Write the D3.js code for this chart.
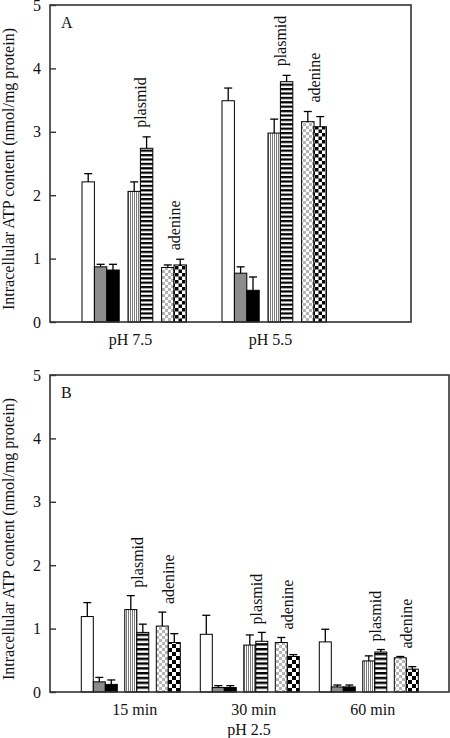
<!DOCTYPE html>
<html>
<head>
<meta charset="utf-8">
<script src="https://cdn.jsdelivr.net/npm/d3@7"></script>
<style>
  html, body { margin: 0; padding: 0; background: #fff; }
  svg { display: block; }
  text { font-family: "Liberation Serif", "Times New Roman", serif; fill: #111; }
</style>
</head>
<body>
<div id="chart"></div>
<script>
// ---------------- DATA ----------------
const seriesKeys = ["white", "gray", "black", "vstripe", "hstripe", "checkLight", "checkDark"];
const seriesCluster = [0, 0, 0, 1, 1, 2, 2];
const yTicks = [0, 1, 2, 3, 4, 5];
const yTitle = "Intracellular ATP content (nmol/mg protein)";
const clusterLabels = ["plasmid", "adenine"];

// Panel A
const catsA = ["pH 7.5", "pH 5.5"];
const valuesA = {
  white:      [2.21, 3.49],
  gray:       [0.87, 0.77],
  black:      [0.82, 0.50],
  vstripe:    [2.06, 2.98],
  hstripe:    [2.74, 3.79],
  checkLight: [0.86, 3.16],
  checkDark:  [0.90, 3.08]
};
const errorsA = {
  white:      [0.13, 0.20],
  gray:       [0.04, 0.10],
  black:      [0.09, 0.21],
  vstripe:    [0.15, 0.22],
  hstripe:    [0.18, 0.10],
  checkLight: [0.04, 0.16],
  checkDark:  [0.09, 0.16]
};

// Panel B
const catsB = ["15 min", "30 min", "60 min"];
const xTitleB = "pH 2.5";
const valuesB = {
  white:      [1.19, 0.91, 0.79],
  gray:       [0.16, 0.07, 0.08],
  black:      [0.12, 0.07, 0.08],
  vstripe:    [1.30, 0.74, 0.49],
  hstripe:    [0.94, 0.80, 0.63],
  checkLight: [1.04, 0.78, 0.54],
  checkDark:  [0.78, 0.56, 0.36]
};
const errorsB = {
  white:      [0.22, 0.30, 0.20],
  gray:       [0.07, 0.03, 0.03],
  black:      [0.07, 0.03, 0.03],
  vstripe:    [0.22, 0.16, 0.08],
  hstripe:    [0.13, 0.14, 0.04],
  checkLight: [0.22, 0.08, 0.02],
  checkDark:  [0.14, 0.03, 0.04]
};

// ---------------- DRAW ----------------
const W = 450, H = 738;
const svg = d3.select("#chart").append("svg").attr("width", W).attr("height", H);
const defs = svg.append("defs");

function makePatterns(id, stripe, check) {
  // vertical fine stripes
  let p = defs.append("pattern").attr("id", "vs" + id).attr("patternUnits", "userSpaceOnUse")
    .attr("width", 2).attr("height", 4);
  p.append("rect").attr("width", 2).attr("height", 4).attr("fill", "#fff");
  p.append("rect").attr("width", 1).attr("height", 4).attr("fill", "#7a7a7a");
  // horizontal stripes
  p = defs.append("pattern").attr("id", "hs" + id).attr("patternUnits", "userSpaceOnUse")
    .attr("width", 4).attr("height", stripe);
  p.append("rect").attr("width", 4).attr("height", stripe).attr("fill", "#fff");
  p.append("rect").attr("width", 4).attr("height", stripe / 2).attr("fill", "#000");
  // light checker
  const c1 = 3;
  p = defs.append("pattern").attr("id", "cl" + id).attr("patternUnits", "userSpaceOnUse")
    .attr("width", c1 * 2).attr("height", c1 * 2);
  p.append("rect").attr("width", c1 * 2).attr("height", c1 * 2).attr("fill", "#fff");
  p.append("rect").attr("width", c1).attr("height", c1).attr("fill", "#b5b5b5");
  p.append("rect").attr("x", c1).attr("y", c1).attr("width", c1).attr("height", c1).attr("fill", "#b5b5b5");
  // dark checker
  p = defs.append("pattern").attr("id", "cd" + id).attr("patternUnits", "userSpaceOnUse")
    .attr("width", check * 2).attr("height", check * 2);
  p.append("rect").attr("width", check * 2).attr("height", check * 2).attr("fill", "#fff");
  p.append("rect").attr("width", check).attr("height", check).attr("fill", "#000");
  p.append("rect").attr("x", check).attr("y", check).attr("width", check).attr("height", check).attr("fill", "#000");
}

function fillFor(key, id) {
  switch (key) {
    case "white": return "#fff";
    case "gray": return "#8c8c8c";
    case "black": return "#000";
    case "vstripe": return "url(#vs" + id + ")";
    case "hstripe": return "url(#hs" + id + ")";
    case "checkLight": return "url(#cl" + id + ")";
    case "checkDark": return "url(#cd" + id + ")";
  }
}

function drawPanel(cfg) {
  const g = svg.append("g");
  const { left, right, top, bottom, cats, values, errors, id } = cfg;
  makePatterns(id, cfg.stripe, cfg.check);

  const y = d3.scaleLinear().domain([0, 5]).range([bottom, top]);
  const x0 = d3.scaleBand().domain(cats).range(cfg.groupRange).paddingInner(0).paddingOuter(0);
  const bw = cfg.barW, gap = cfg.gap;
  const off = i => i * bw + seriesCluster[i] * gap;

  // bars
  seriesKeys.forEach((k, si) => {
    const data = cats.map((c, ci) => ({ c, v: values[k][ci], e: errors[k][ci] }));
    const sg = g.append("g");
    sg.selectAll("rect").data(data).join("rect")
      .attr("x", d => x0(d.c) + off(si))
      .attr("y", d => y(d.v))
      .attr("width", bw)
      .attr("height", d => y(0) - y(d.v))
      .attr("fill", fillFor(k, id))
      .attr("stroke", "#000").attr("stroke-width", 1);
    // error bars (upper only)
    sg.selectAll("line.eb").data(data).join("line").attr("class", "eb")
      .attr("x1", d => x0(d.c) + off(si) + bw / 2).attr("x2", d => x0(d.c) + off(si) + bw / 2)
      .attr("y1", d => y(d.v)).attr("y2", d => y(d.v + d.e))
      .attr("stroke", "#000").attr("stroke-width", 1.3);
    sg.selectAll("line.cap").data(data).join("line").attr("class", "cap")
      .attr("x1", d => x0(d.c) + off(si) + bw / 2 - 4).attr("x2", d => x0(d.c) + off(si) + bw / 2 + 4)
      .attr("y1", d => y(d.v + d.e)).attr("y2", d => y(d.v + d.e))
      .attr("stroke", "#000").attr("stroke-width", 1.3);
  });

  // cluster labels (plasmid over series 3-4, adenine over series 5-6)
  const pairs = [[3, 4], [5, 6]];
  cats.forEach((c, ci) => {
    pairs.forEach((pr, pi) => {
      const topCap = Math.min(...pr.map(si => y(values[seriesKeys[si]][ci] + errors[seriesKeys[si]][ci])));
      const bx = x0(c) + off(pr[1]) + cfg.labelDx;
      const by = topCap - cfg.labelGap;
      g.append("text").attr("transform", `translate(${bx},${by}) rotate(-90)`)
        .attr("font-size", 16).attr("text-anchor", "start").text(clusterLabels[pi]);
    });
  });

  // box
  g.append("rect").attr("x", left).attr("y", top).attr("width", right - left).attr("height", bottom - top)
    .attr("fill", "none").attr("stroke", "#333").attr("stroke-width", 1.6);

  // y axis
  const ax = g.append("g").attr("transform", `translate(${left},0)`)
    .call(d3.axisLeft(y).tickValues(yTicks).tickFormat(d3.format("d")).tickSize(-6).tickPadding(9));
  ax.select(".domain").remove();
  ax.selectAll(".tick line").attr("stroke", "#333").attr("stroke-width", 1.4);
  ax.selectAll(".tick text").attr("font-size", 16).attr("fill", "#111")
    .style("font-family", '"Liberation Serif", "Times New Roman", serif');

  // y title
  g.append("text").attr("transform", `translate(14,${(top + bottom) / 2 + 5.5}) rotate(-90)`)
    .attr("text-anchor", "middle").attr("font-size", 16).text(yTitle);

  // category labels
  g.selectAll("text.cat").data(cats).join("text").attr("class", "cat")
    .attr("x", d => x0(d) + cfg.catDx).attr("y", bottom + 23)
    .attr("text-anchor", "middle").attr("font-size", 16).text(d => d);

  // panel letter
  g.append("text").attr("x", left + 11).attr("y", top + 23).attr("font-size", 16).text(cfg.letter);
  return { x0, y };
}

drawPanel({
  id: "A", letter: "A", left: 50, right: 411, top: 5, bottom: 322,
  cats: catsA, values: valuesA, errors: errorsA,
  groupRange: [82, 362], barW: 12.4, gap: 8.8, stripe: 4.4, check: 3.5,
  labelDx: 6, labelGap: 9, catDx: 48.5
});

drawPanel({
  id: "B", letter: "B", left: 50, right: 449, top: 375, bottom: 692,
  cats: catsB, values: valuesB, errors: errorsB,
  groupRange: [81.3, 438.3], barW: 12, gap: 7.5, stripe: 4.8, check: 4,
  labelDx: 6, labelGap: 8, catDx: 53.5
});

svg.append("text").attr("x", 249).attr("y", 735).attr("text-anchor", "middle")
  .attr("font-size", 16).text(xTitleB);
</script>
</body>
</html>
